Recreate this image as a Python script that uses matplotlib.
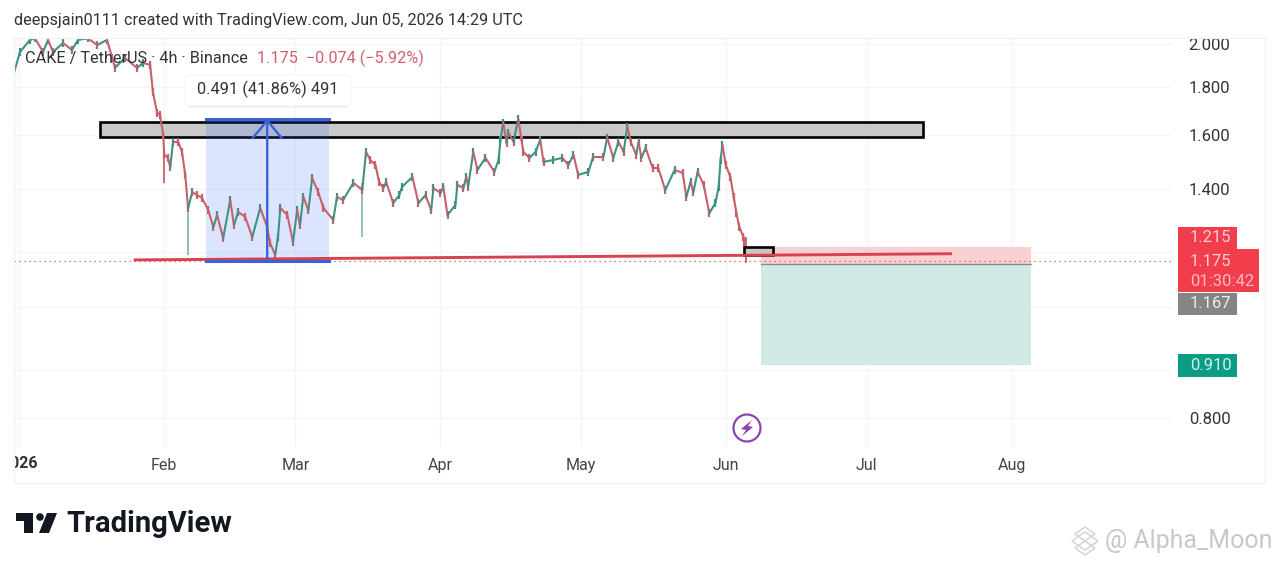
"""CAKE / TetherUS 4h chart snapshot, redrawn with matplotlib."""

import matplotlib

matplotlib.use("Agg")
import matplotlib.pyplot as plt
from matplotlib.patches import Circle, FancyBboxPatch, Polygon, Rectangle
from matplotlib.ticker import FixedLocator, NullLocator
from matplotlib.transforms import Bbox

W, H = 1280, 565
UP = "#3f9182"
DOWN = "#c8606c"
WICK_UP = "#86bdb0"
BLUE = "#3b62d6"
TEXT = "#333333"

# days since Jan 1 2026, price
days = [
    -1.07, 0.2, 2.35, 3.42, 5.13, 6.2, 7.26, 9.4, 11.3, 12.6, 14.7, 16.7, 18.8, 19.9, 20.5,
    22.6, 25.2, 26.5, 28, 28.6, 29.5, 30.1, 30.8, 31, 31.8, 32.3, 32.9, 34, 34.8, 35.5,
    36.1, 37, 38, 39.1, 40.4, 41.5, 42.3, 43.6, 45.1, 45.9, 46.8, 48.3, 49.8, 51.5, 53,
    53.6, 54.7, 55.3, 55.8, 57.3, 58.5, 59.4, 60, 60.7, 61.8, 62.6, 63.9, 65, 67.1, 67.9,
    69.2, 71.4, 73.3, 74.1, 75, 76.1, 76.9, 77.8, 78.4, 79.9, 81.2, 81.8, 84, 85.3, 86.8,
    88, 88.5, 90, 90.6, 91.5, 93.2, 93.6, 94.9, 95.5, 95.9, 97, 97.9, 99.6, 101.5, 102.4,
    102.8, 103.4, 104.1, 104.5, 105.6, 106.6, 107.3, 107.7, 109, 110.3, 111.3, 112, 114.1, 116, 117.3,
    118.4, 119.4, 121.6, 122.6, 124.8, 125.6, 126.9, 128, 129.1, 129.9, 130.6, 131.8, 132.3, 132.9, 133.8,
    135.3, 136.5, 138, 140, 141.7, 142.5, 143.4, 144, 144.9, 146.2, 147.4, 148.7, 149.4, 149.8, 150.2,
    150.9, 151.9, 152.6, 153.2, 153.8, 154.7, 154.9,
]
prices = [
    1.864, 1.961, 2.020, 2.028, 1.961, 2.020, 1.961, 2.005, 1.971, 2.020, 2.028, 1.995, 2.020, 1.933, 1.886,
    1.933, 1.886, 1.909, 1.900, 1.777, 1.689, 1.681, 1.601, 1.524, 1.513, 1.480, 1.574, 1.574, 1.535, 1.451,
    1.338, 1.391, 1.381, 1.371, 1.331, 1.277, 1.315, 1.243, 1.364, 1.283, 1.325, 1.309, 1.246, 1.338, 1.277,
    1.228, 1.193, 1.246, 1.338, 1.315, 1.231, 1.331, 1.283, 1.375, 1.331, 1.440, 1.391, 1.338, 1.299, 1.375,
    1.364, 1.423, 1.398, 1.535, 1.505, 1.487, 1.426, 1.405, 1.426, 1.354, 1.381, 1.409, 1.444, 1.354, 1.381,
    1.331, 1.405, 1.388, 1.409, 1.315, 1.348, 1.416, 1.405, 1.444, 1.409, 1.535, 1.469, 1.513, 1.462, 1.505,
    1.581, 1.649, 1.570, 1.609, 1.574, 1.665, 1.581, 1.535, 1.513, 1.535, 1.581, 1.498, 1.505, 1.513, 1.487,
    1.524, 1.451, 1.462, 1.517, 1.517, 1.590, 1.513, 1.574, 1.535, 1.633, 1.574, 1.524, 1.574, 1.513, 1.550,
    1.476, 1.476, 1.398, 1.469, 1.458, 1.375, 1.426, 1.391, 1.462, 1.416, 1.321, 1.354, 1.409, 1.505, 1.562,
    1.487, 1.444, 1.375, 1.321, 1.277, 1.246, 1.231,
]

# long wicks: day, top, bottom, colour
wick_days = [31, 36.1, 73.3, 155.3]
wick_tops = [1.524, 1.338, 1.423, 1.246]
wick_lows = [1.423, 1.193, 1.246, 1.170]
wick_colors = [DOWN, WICK_UP, WICK_UP, DOWN]

month_days = [0, 31, 59, 90, 120, 151, 181, 212]
month_labels = ["", "Feb", "Mar", "Apr", "May", "Jun", "Jul", "Aug"]
price_ticks = [2.0, 1.8, 1.6, 1.4, 1.2, 1.05, 0.9, 0.8]
price_labels = ["2.000", "1.800", "1.600", "1.400", "", "", "", "0.800"]

last_price = 1.175
zone_days = [17.3, 193]
zone_prices = [1.593, 1.652]
small_box_days = [154.9, 161.1]
small_box_prices = [1.191, 1.215]
support_days = [24.8, 198.9]
support_prices = [1.178, 1.196]
measure_days = [40, 53, 66.2]
measure_prices = [1.174, 1.665]
trade_days = [158.5, 216]
entry, stop, target = 1.167, 1.215, 0.910

plt.rcParams["font.family"] = ["Roboto", "DejaVu Sans"]
fig = plt.figure(figsize=(W / 100, H / 100), dpi=100, facecolor="white")

# main pane: x 14..1172 px, y 38..447 px
ax = fig.add_axes([14 / W, 1 - 447 / H, (1172 - 14) / W, (447 - 38) / H])
ax.set_yscale("log")
ax.set_xlim(-1.07, 246.2)
ax.set_ylim(0.7447, 2.0296)
ax.yaxis.tick_right()
ax.yaxis.set_major_locator(FixedLocator(price_ticks))
ax.yaxis.set_minor_locator(NullLocator())
ax.set_yticklabels(price_labels)
ax.set_xticks(month_days)
ax.set_xticklabels(month_labels)
ax.tick_params(axis="y", length=0, pad=12, labelsize=12, labelcolor=TEXT)
ax.tick_params(axis="x", length=0, pad=8, labelsize=11.5, labelcolor="#444444")
ax.grid(True, color="#f4f4f4", lw=0.9, zorder=0)
ax.set_axisbelow(True)
for s in ax.spines.values():
    s.set_visible(False)

# trade box, price line
ax.fill_between(trade_days, entry, stop, color="#f9c9cc", alpha=0.85, lw=0, zorder=1)
ax.fill_between(trade_days, target, entry, color="#cfeae4", lw=0, zorder=1)
ax.plot(trade_days, [entry, entry], color="#8c8c8c", lw=1, zorder=2)
ax.axhline(last_price, color="#d2525f", lw=0.9, ls=(0, (1, 3)), zorder=2)

# candles: a zigzag between the read-off closes with a short body tick on each
for i in range(1, len(days)):
    col = UP if prices[i] > prices[i - 1] else DOWN
    ax.plot(days[i - 1 : i + 1], prices[i - 1 : i + 1], color=col, lw=1.5, zorder=4,
            solid_capstyle="round")
    ax.plot(days[i], prices[i], marker="|", ms=6, mew=1.6, color=col, zorder=4, clip_on=True)
ax.vlines(wick_days, wick_lows, wick_tops, colors=wick_colors, lw=1.3, zorder=3)

# drawings
ax.add_patch(Rectangle((zone_days[0], zone_prices[0]), zone_days[1] - zone_days[0],
                       zone_prices[1] - zone_prices[0], fc="#c9c9c9", ec="black", lw=1.9, zorder=3))
# measure shading sits over the zone, so the grey band turns bluish inside it
ax.fill_between([measure_days[0], measure_days[2]], *measure_prices, color="#2962ff", alpha=0.16,
                lw=0, zorder=3.5)
ax.add_patch(Rectangle((small_box_days[0], small_box_prices[0]), small_box_days[1] - small_box_days[0],
                       small_box_prices[1] - small_box_prices[0], fc="#cfc4c4", ec="black", lw=1.9, zorder=5))
ax.plot(support_days, support_prices, color="#d6434f", lw=2.1, zorder=5)
for p in measure_prices:
    ax.plot([measure_days[0], measure_days[2]], [p, p], color=BLUE, lw=2.2, zorder=5)
ax.annotate("", xy=(measure_days[1], measure_prices[1]), xytext=(measure_days[1], measure_prices[0]),
            arrowprops=dict(arrowstyle="->,head_length=0.9,head_width=0.75", color=BLUE, lw=1.7,
                            shrinkA=0, shrinkB=0, mutation_scale=14), zorder=6)

# the clipped 2026 year label on the left edge of the time scale
year = fig.text(38 / W, 1 - 464 / H, "2026", ha="right", va="center", fontsize=11.5,
                fontweight="bold", color=TEXT)
year.set_clip_box(Bbox.from_extents(14, 0, W, H))
year.set_clip_on(True)

# chrome in pixel coordinates
ui = fig.add_axes([0, 0, 1, 1], zorder=10)
ui.set_xlim(0, W)
ui.set_ylim(H, 0)
ui.axis("off")
ui.patch.set_visible(False)

for x0, y0, x1, y1 in [(14, 38, 1265, 38), (14, 483, 1265, 483), (14, 38, 14, 483), (1265, 38, 1265, 483)]:
    ui.plot([x0, x1], [y0, y1], color="#f2f2f2", lw=0.9, zorder=0)

ui.text(14, 21, "deepsjain0111 created with TradingView.com, Jun 05, 2026 14:29 UTC",
        fontsize=11.7, color=TEXT, va="center")
ui.text(25, 58, "CAKE / TetherUS · 4h · Binance", fontsize=11.7, color=TEXT, va="center")
ui.text(257, 58, "1.175  −0.074 (−5.92%)", fontsize=11.7, color="#d2606c", va="center")

# tooltip of the measure tool, faint shadow under it
ui.add_patch(FancyBboxPatch((187, 78), 162, 30, boxstyle="round,pad=0,rounding_size=5",
                            fc="#ececec", ec="none", alpha=0.8))
ui.add_patch(FancyBboxPatch((185, 75), 166, 31, boxstyle="round,pad=0,rounding_size=5",
                            fc="white", ec="#f2f2f2", lw=0.6))
ui.text(267.5, 89, "0.491 (41.86%) 491", fontsize=11.75, color=TEXT, ha="center", va="center")

# price tags
tag_boxes = [(1178, 227, 59, 21, "#f23d4c"), (1178, 249, 81, 43, "#f23d4c"),
             (1178, 293, 59, 22, "#858585"), (1178, 354, 59, 23, "#0c9b84")]
for x, y, w, h, c in tag_boxes:
    ui.add_patch(Rectangle((x, y), w, h, fc=c, ec="none"))
ui.add_patch(Rectangle((1178, 246), 59, 5, fc="#f23d4c", ec="none"))
for y, label, c in [(238, "1.215", "#ffd0d4"), (262, "1.175", "#ffd0d4"), (281, "01:30:42", "#ffb9bf"),
                    (304, "1.167", "#eeeeee"), (366, "0.910", "#d0f0e8")]:
    ui.text(1190, y, label, fontsize=12, color=c, va="center")

# purple lightning badge
ui.add_patch(Circle((747, 428), 13.5, fc="white", ec="#8b45ad", lw=1.6))
ui.add_patch(Polygon([(752, 420), (741, 429), (746, 430), (742, 436), (753, 427), (748, 426)],
                     fc="#8b45ad", ec="none"))

# TradingView logo
ui.add_patch(Polygon([(16, 513), (33, 513), (33, 533), (24, 533), (24, 521), (16, 521)], fc="#131722", ec="none"))
ui.add_patch(Circle((40, 517), 3.8, fc="#131722", ec="none"))
ui.add_patch(Polygon([(47, 513), (57, 513), (49, 533), (39, 533)], fc="#131722", ec="none"))
ui.text(66, 524, "TradingView", fontsize=21, fontweight="bold", color="#131722", va="center")

# watermark
for cy, r in [(534, 10), (541, 13), (548, 10)]:
    ui.add_patch(Polygon([(1085, cy - r * 0.7), (1085 + r, cy), (1085, cy + r * 0.7), (1085 - r, cy)],
                         fc="none", ec="#d4d4d4", lw=1.1))
ui.text(1105, 541, "@ Alpha_Moon", fontsize=17.9, color="#c8c8c8", va="center")

fig.savefig("out.png", dpi=100)
